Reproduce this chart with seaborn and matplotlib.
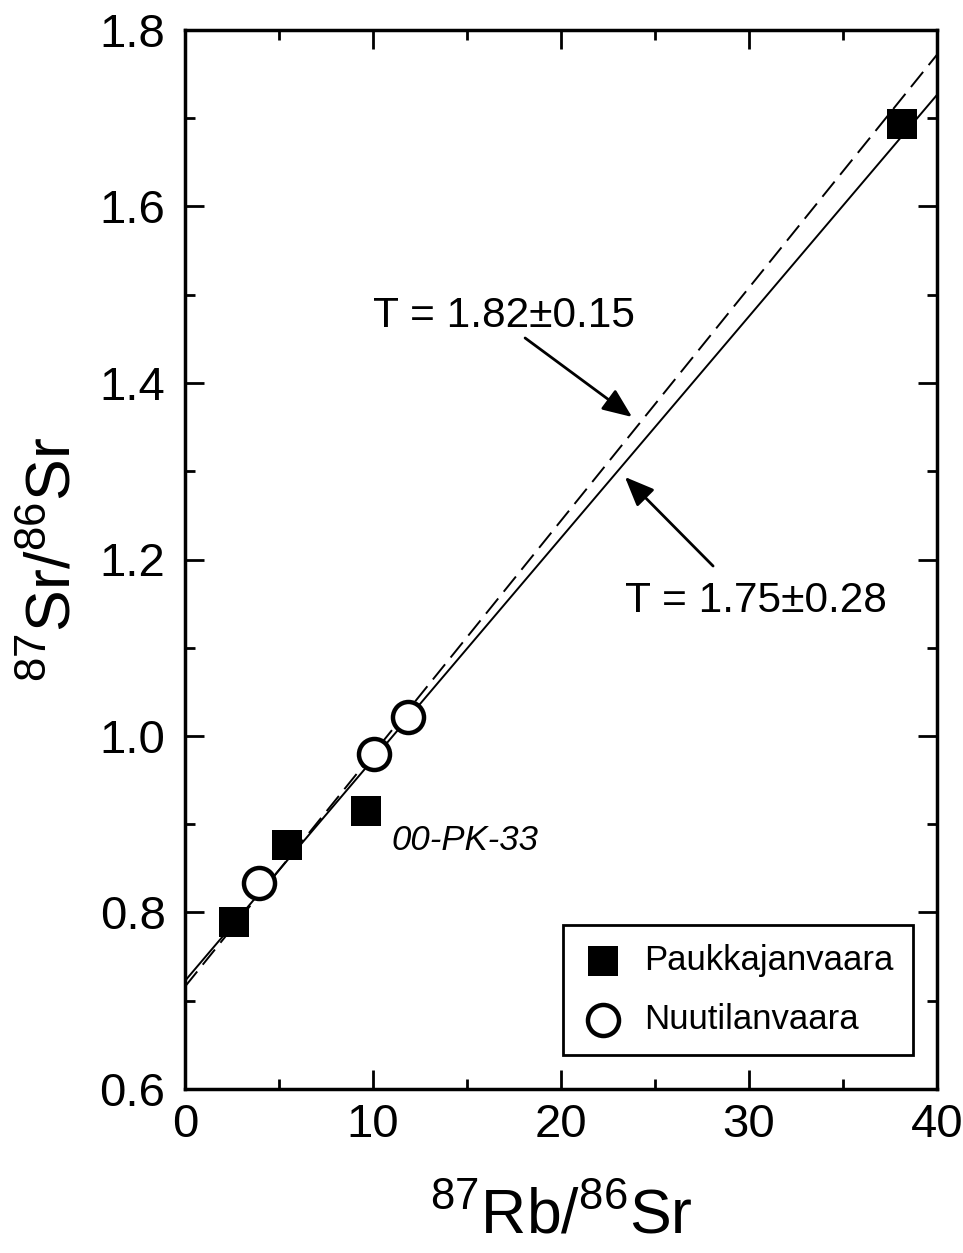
import numpy as np
import pandas as pd
import matplotlib
matplotlib.use("Agg")
import matplotlib.pyplot as plt
import seaborn as sns
from matplotlib.ticker import MultipleLocator

# ---- data ----
pauk_x = [2.6, 5.45, 9.65, 38.15]
pauk_y = [0.789, 0.877, 0.915, 1.694]
nuut_x = [3.95, 10.05, 11.85]
nuut_y = [0.833, 0.980, 1.021]

series_names = ["Paukkajanvaara", "Nuutilanvaara"]

# isochrons: intercept and slope
iso_solid = (0.7225, 0.02510)
iso_dashed = (0.716, 0.0264)
iso_x = [0, 40]

age_labels = ["T = 1.82\u00b10.15", "T = 1.75\u00b10.28"]
sample_label = "00-PK-33"

xticks = [0, 10, 20, 30, 40]
yticks = [0.6, 0.8, 1.0, 1.2, 1.4, 1.6, 1.8]

# ---- style ----
sns.set_style("ticks")
plt.rcParams["font.family"] = ["Liberation Sans", "DejaVu Sans"]
plt.rcParams["mathtext.fontset"] = "custom"
plt.rcParams["mathtext.rm"] = "Liberation Sans"
plt.rcParams["mathtext.it"] = "Liberation Sans:italic"
for k in ["text.color", "axes.labelcolor", "xtick.color", "ytick.color", "axes.edgecolor"]:
    plt.rcParams[k] = "black"

fig = plt.figure(figsize=(9.63, 12.53), dpi=100)
ax = fig.add_axes([185/963, 1-1089/1253, (937-185)/963, (1089-30)/1253])

# isochron lines
solid_df = pd.DataFrame({"x": iso_x, "y": [iso_solid[0] + iso_solid[1]*v for v in iso_x]})
dashed_df = pd.DataFrame({"x": iso_x, "y": [iso_dashed[0] + iso_dashed[1]*v for v in iso_x]})
sns.lineplot(data=solid_df, x="x", y="y", ax=ax, color="black", lw=1.4, legend=False)
sns.lineplot(data=dashed_df, x="x", y="y", ax=ax, color="black", lw=1.4, legend=False)
ax.lines[-1].set_dashes((10, 4.5))

# points
pdf = pd.DataFrame({"x": pauk_x, "y": pauk_y})
ndf = pd.DataFrame({"x": nuut_x, "y": nuut_y})
sns.scatterplot(data=pdf, x="x", y="y", ax=ax, marker="s", s=440, color="black",
                linewidth=0, label=series_names[0], zorder=5)
sns.scatterplot(data=ndf, x="x", y="y", ax=ax, marker="o", s=500, facecolor="white",
                edgecolor="black", linewidth=3.2, label=series_names[1], zorder=5)

ax.set_xlim(0, 40)
ax.set_ylim(0.6, 1.8)
ax.set_xticks(xticks)
ax.set_yticks(yticks)
ax.xaxis.set_minor_locator(MultipleLocator(5))
ax.yaxis.set_minor_locator(MultipleLocator(0.1))
ax.set_xticklabels([str(v) for v in xticks])
ax.set_yticklabels([f"{v:.1f}" for v in yticks])

for s in ax.spines.values():
    s.set_visible(True)
    s.set_linewidth(2.5)
    s.set_color("black")
ax.tick_params(which="both", direction="in", top=True, right=True, color="black", width=2)
ax.tick_params(which="major", length=14)
ax.tick_params(which="minor", length=7)
ax.tick_params(axis="y", which="major", labelsize=34, pad=14)
ax.tick_params(axis="x", which="major", labelsize=34, pad=10)

ax.set_xlabel(r"$^{87}$Rb/$^{86}$Sr", fontsize=45, labelpad=29)
ax.set_ylabel(r"$^{87}$Sr/$^{86}$Sr", fontsize=45, labelpad=12)

# annotations
ax.text(10.0, 1.4635, age_labels[0], fontsize=30.5, ha="left", va="baseline")
ax.text(23.4, 1.1405, age_labels[1], fontsize=30.5, ha="left", va="baseline")
ax.text(11.0, 0.8708, sample_label, fontsize=25, style="italic", ha="left", va="baseline")

arrow_style = dict(arrowstyle="-|>,head_length=0.6,head_width=0.25", mutation_scale=30,
                   lw=2, color="black", shrinkA=0, shrinkB=0)
ax.annotate("", xy=(23.78, 1.3615), xytext=(18.09, 1.451), arrowprops=arrow_style)
ax.annotate("", xy=(23.40, 1.2935), xytext=(28.09, 1.1926), arrowprops=arrow_style)

leg = ax.legend(loc="lower right", bbox_to_anchor=(0.968, 0.032), borderaxespad=0,
                fontsize=25, frameon=True, fancybox=False, edgecolor="black",
                handlelength=1.2, handletextpad=0.6, borderpad=0.55, labelspacing=0.75,
                scatterpoints=1)
leg.get_frame().set_linewidth(2)
leg.get_frame().set_alpha(1)

fig.savefig("out.png", dpi=100)
